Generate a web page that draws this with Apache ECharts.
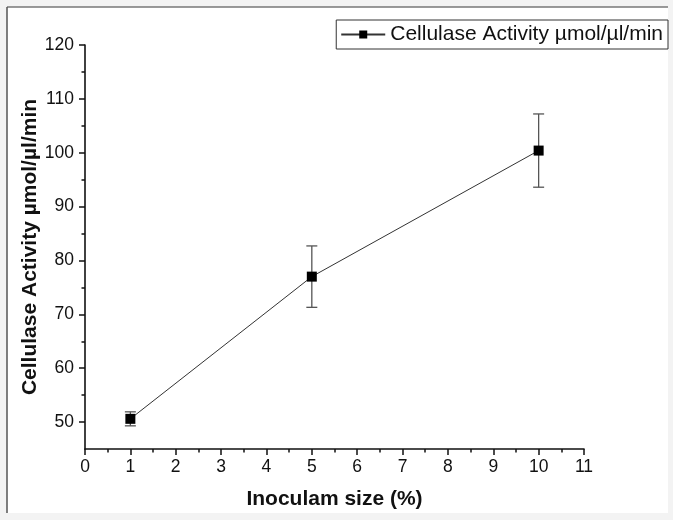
<!DOCTYPE html>
<html>
<head>
<meta charset="utf-8">
<script src="https://cdn.jsdelivr.net/npm/echarts@6/dist/echarts.min.js"></script>
<style>html,body{margin:0;padding:0;background:#fff}#c{width:673px;height:520px}</style>
</head>
<body>
<div id="c"></div>
<script>
const seriesName = 'Cellulase Activity µmol/µl/min';
const xTitle = 'Inoculam size (%)';
const yTitle = 'Cellulase Activity µmol/µl/min';
const inoculum = [1, 5, 10];
const activity = [50.6, 77.0, 100.4];
const errors = [1.3, 5.7, 6.8];
const yMajorTicks = [50, 60, 70, 80, 90, 100, 110, 120];
const yMinorTicks = [55, 65, 75, 85, 95, 105, 115];

const chart = echarts.init(document.getElementById('c'), null, {renderer: 'canvas'});
const font = 'Liberation Sans, Arial, sans-serif';
const lineData = inoculum.map((x, i) => [x, activity[i]]);
const errData = inoculum.map((x, i) => [x, activity[i] - errors[i], activity[i] + errors[i]]);

chart.setOption({
  backgroundColor: '#f3f3f3',
  animation: false,
  graphic: [
    {type: 'rect', shape: {x: 7, y: 7, width: 661, height: 506}, style: {fill: '#fff', stroke: null}, z: -10, silent: true},
    {type: 'line', shape: {x1: 7, y1: 7, x2: 668, y2: 7}, style: {stroke: '#777', lineWidth: 1.5}, z: -9, silent: true},
    {type: 'line', shape: {x1: 7, y1: 7, x2: 7, y2: 513}, style: {stroke: '#555', lineWidth: 1.5}, z: -9, silent: true}
  ],
  grid: {left: 85, right: 89, top: 45, bottom: 71, containLabel: false},
  legend: {
    right: 5, top: 20,
    data: [seriesName],
    itemWidth: 44, itemHeight: 10, itemGap: 5,
    padding: [4, 5, 4, 4],
    borderColor: '#333', borderWidth: 1, borderRadius: 0,
    backgroundColor: '#fff',
    textStyle: {fontFamily: font, fontSize: 21, color: '#111'}
  },
  xAxis: {
    type: 'value', min: 0, max: 11, interval: 1,
    name: xTitle, nameLocation: 'middle', nameGap: 40, nameMoveOverlap: false,
    nameTextStyle: {fontFamily: font, fontSize: 21, fontWeight: 'bold', color: '#111'},
    axisLine: {show: true, onZero: false, lineStyle: {color: '#111', width: 1.6}},
    axisTick: {show: true, inside: false, length: 6, lineStyle: {color: '#111', width: 1.5}},
    minorTick: {show: true, splitNumber: 2, length: 3.5, lineStyle: {color: '#111', width: 1.5}},
    axisLabel: {fontFamily: font, fontSize: 17.5, color: '#111', margin: 9},
    splitLine: {show: false}
  },
  yAxis: [
    {
      type: 'value', min: 45, max: 120,
      name: yTitle, nameLocation: 'middle', nameGap: 44, nameMoveOverlap: false,
      nameTextStyle: {fontFamily: font, fontSize: 21, fontWeight: 'bold', color: '#111'},
      axisLine: {show: true, onZero: false, lineStyle: {color: '#111', width: 1.6}},
      axisTick: {show: true, inside: false, length: 6, customValues: yMajorTicks, lineStyle: {color: '#111', width: 1.5}},
      axisLabel: {fontFamily: font, fontSize: 17.5, color: '#111', margin: 11, customValues: yMajorTicks},
      splitLine: {show: false}
    },
    {
      type: 'value', min: 45, max: 120, position: 'left',
      axisLine: {show: false},
      axisTick: {show: true, inside: false, length: 3.5, customValues: yMinorTicks, lineStyle: {color: '#111', width: 1.5}},
      axisLabel: {show: false},
      splitLine: {show: false}
    }
  ],
  series: [
    {
      type: 'custom',
      name: 'err',
      renderItem: function (params, api) {
        const x = api.value(0);
        const lo = api.coord([x, api.value(1)]);
        const hi = api.coord([x, api.value(2)]);
        const hw = 5.5;
        const st = {stroke: '#555', lineWidth: 1.3};
        return {
          type: 'group',
          children: [
            {type: 'line', shape: {x1: lo[0], y1: lo[1], x2: hi[0], y2: hi[1]}, style: st},
            {type: 'line', shape: {x1: lo[0] - hw, y1: lo[1], x2: lo[0] + hw, y2: lo[1]}, style: st},
            {type: 'line', shape: {x1: hi[0] - hw, y1: hi[1], x2: hi[0] + hw, y2: hi[1]}, style: st}
          ]
        };
      },
      data: errData,
      z: 1,
      silent: true
    },
    {
      type: 'line',
      name: seriesName,
      data: lineData,
      symbol: 'rect', symbolSize: 10,
      lineStyle: {color: '#333', width: 1},
      itemStyle: {color: '#000', borderWidth: 0},
      z: 3
    }
  ]
});
</script>
</body>
</html>
